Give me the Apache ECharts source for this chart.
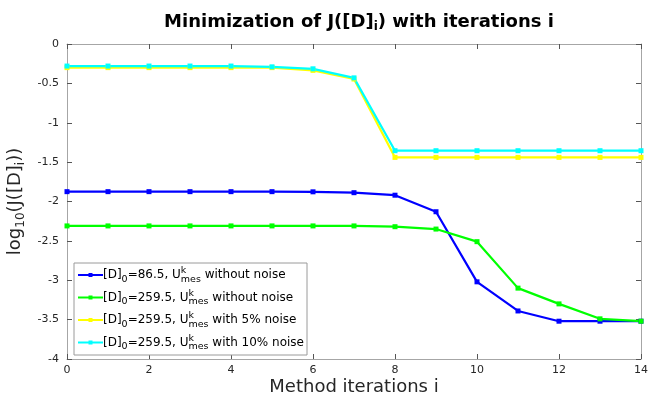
<!DOCTYPE html>
<html>
<head>
<meta charset="utf-8">
<script src="https://cdn.jsdelivr.net/npm/echarts@6/dist/echarts.min.js"></script>
<style>
  html, body { margin: 0; padding: 0; background: #fff; }
  #chart { width: 648px; height: 396px; }
</style>
</head>
<body>
<div id="chart"></div>
<script>
var iterations = [0, 1, 2, 3, 4, 5, 6, 7, 8, 9, 10, 11, 12, 13, 14]
var blueD865 = [-1.875, -1.875, -1.875, -1.875, -1.875, -1.875, -1.877, -1.888, -1.92, -2.13, -3.02, -3.39, -3.52, -3.52, -3.52]
var green2595 = [-2.31, -2.31, -2.31, -2.31, -2.31, -2.31, -2.31, -2.31, -2.32, -2.35, -2.51, -3.10, -3.30, -3.49, -3.52]
var yellow5pct = [-0.30, -0.30, -0.30, -0.30, -0.30, -0.30, -0.335, -0.445, -1.44, -1.44, -1.44, -1.44, -1.44, -1.44, -1.44]
var cyan10pct = [-0.28, -0.28, -0.28, -0.28, -0.28, -0.29, -0.315, -0.43, -1.355, -1.355, -1.355, -1.355, -1.355, -1.355, -1.355]

var seriesNames = ['d865', 'd2595', 'd2595n5', 'd2595n10']
var legendLabels = {
  d865: ['86.5', 'without noise'],
  d2595: ['259.5', 'without noise'],
  d2595n5: ['259.5', 'with 5% noise'],
  d2595n10: ['259.5', 'with 10% noise']
}
var colors = ['#0000ff', '#00ff00', '#ffff00', '#00ffff']
var allData = [blueD865, green2595, yellow5pct, cyan10pct]

function pairs(arr) {
  var out = []
  for (var i = 0; i < arr.length; i++) out.push([iterations[i], arr[i]])
  return out
}

var chart = echarts.init(document.getElementById('chart'))
var font = 'DejaVu Sans'
var axisGray = '#a6a6a6'
var tickGray = '#555'

var series = []
for (var s = 0; s < seriesNames.length; s++) {
  series.push({
    name: seriesNames[s],
    type: 'line',
    data: pairs(allData[s]),
    symbol: 'rect',
    symbolSize: 5,
    color: colors[s],
    lineStyle: { width: 2.2, color: colors[s] },
    itemStyle: { color: colors[s] },
    animation: false
  })
}

var commonAxisLine = { show: true, onZero: false, lineStyle: { color: axisGray, width: 1 } }
var commonTick = { show: true, inside: true, length: 5, lineStyle: { color: tickGray } }

chart.setOption({
  backgroundColor: '#fff',
  title: {
    text: 'Minimization of J([D]{s|i}) with iterations i',
    left: 354, textAlign: 'center', top: 6,
    textStyle: {
      fontFamily: font, fontWeight: 'bold', fontSize: 18, color: '#000',
      rich: {
        s: { fontFamily: font, fontWeight: 'bold', fontSize: 12, padding: [10, 0, 0, 0] }
      }
    }
  },
  grid: { left: 67, right: 7, top: 44, bottom: 37, containLabel: false, outerBoundsMode: 'none' },
  legend: {
    data: seriesNames,
    orient: 'vertical',
    left: 74, top: 263,
    padding: [3, 3, 3, 3],
    itemGap: 4,
    itemWidth: 25, itemHeight: 5,
    backgroundColor: '#fff',
    borderColor: '#9a9a9a', borderWidth: 1, borderRadius: 0,
    formatter: function (name) {
      var l = legendLabels[name]
      return '[D]{sub|0}=' + l[0] + ', U{k|k}{sub|mes} ' + l[1]
    },
    textStyle: {
      fontFamily: font, fontSize: 12, color: '#000', padding: [0, 0, 0, -5],
      rich: {
        sub: { fontFamily: font, fontSize: 9.5, color: '#000', padding: [9, 0, 0, 0] },
        k: { fontFamily: font, fontSize: 9.5, color: '#000', width: 0, padding: [0, 0, 8, 0] }
      }
    }
  },
  xAxis: [{
    type: 'value', min: 0, max: 14, interval: 2,
    name: 'Method iterations i', nameLocation: 'middle', nameGap: 19, nameMoveOverlap: false,
    nameTextStyle: { fontFamily: font, fontSize: 18, color: '#262626' },
    axisLine: commonAxisLine,
    axisTick: commonTick,
    axisLabel: { fontFamily: font, fontSize: 11, color: '#262626', margin: 6 },
    splitLine: { show: false }
  }, {
    type: 'value', min: 0, max: 14, interval: 2, position: 'top',
    axisLine: commonAxisLine,
    axisTick: commonTick,
    axisLabel: { show: false },
    splitLine: { show: false }
  }],
  yAxis: [{
    type: 'value', min: -4, max: 0, interval: 0.5,
    name: 'log{sub|10}(J([D]{sub|i}))', nameLocation: 'middle', nameGap: 37, nameRotate: 90,
    nameTextStyle: {
      fontFamily: font, fontSize: 18, color: '#262626',
      rich: { sub: { fontFamily: font, fontSize: 12, color: '#262626', padding: [11, 0, 0, 0] } }
    },
    axisLine: commonAxisLine,
    axisTick: commonTick,
    axisLabel: { fontFamily: font, fontSize: 11, color: '#262626', margin: 8 },
    splitLine: { show: false }
  }, {
    type: 'value', min: -4, max: 0, interval: 0.5, position: 'right',
    axisLine: commonAxisLine,
    axisTick: commonTick,
    axisLabel: { show: false },
    splitLine: { show: false }
  }],
  series: series
})
</script>
</body>
</html>
